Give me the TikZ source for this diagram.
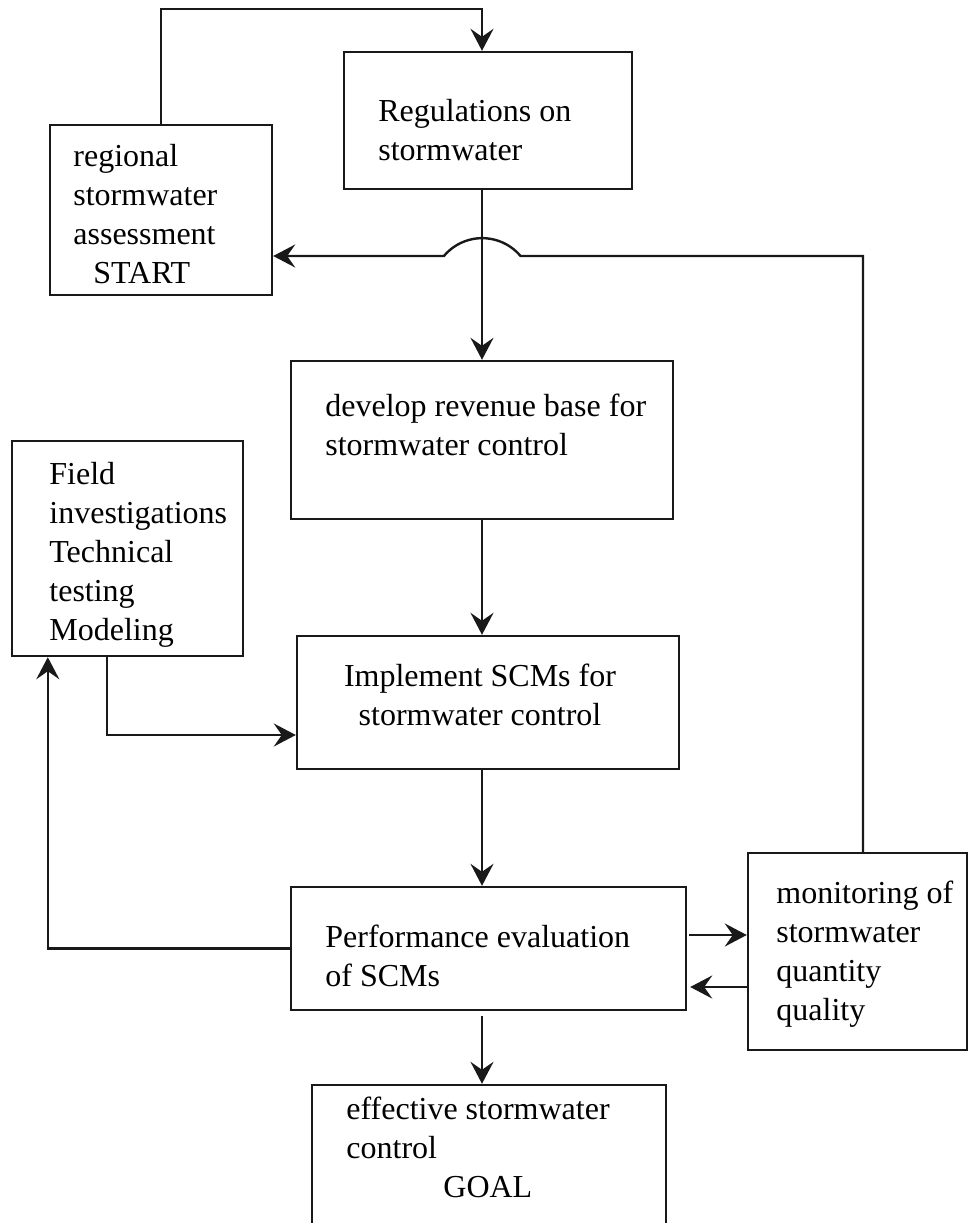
\documentclass[tikz,border=0pt]{standalone}
\usepackage{fontspec}
\setmainfont{Liberation Serif}
\usetikzlibrary{calc}
\usetikzlibrary{positioning}
\usetikzlibrary{arrows.meta}

\tikzset{
    box/.style={rectangle, draw=black!90, line width=1.2pt, inner sep=0pt},
    txt/.style={align=left, anchor=base west, inner sep=0pt, font=\fontsize{16pt}{19.5pt}\selectfont},
    arr/.style={-{Stealth[length=11pt, width=11.5pt, inset=4pt]}, line width=1.2pt, black!90}
}

\begin{document}
\begin{tikzpicture}[x=0.5pt, y=-0.5pt]
    \clip (0,0) rectangle (969,1223);

    % boxes
    \node [box, minimum width=111pt, minimum height=85pt] (start) at (161,210) {};
    \node [box, minimum width=144pt, minimum height=68.5pt] (regulations) at (488,120.5) {};
    \node [box, minimum width=191pt, minimum height=79pt] (revenue) at (482,440) {};
    \node [box, minimum width=115.5pt, minimum height=107.5pt] (field) at (127.5,548.5) {};
    \node [box, minimum width=191pt, minimum height=66.5pt] (implement) at (488,702.5) {};
    \node [box, minimum width=197.5pt, minimum height=61.5pt] (performance) at (488.5,948.5) {};
    \node [box, minimum width=109.5pt, minimum height=98.5pt] (monitoring) at (857.5,951.5) {};
    \node [box, minimum width=177pt, minimum height=87.5pt] (goal) at (489,1172.5) {};

    % texts (placed at the baseline of their last line)
    \node [txt] (startText) at (73,283) {regional\\stormwater\\assessment\\\hspace*{10pt}START};
    \node [txt] (regulationsText) at (378,160) {Regulations on\\stormwater};
    \node [txt] (revenueText) at (325,455) {develop revenue base for\\stormwater control};
    \node [txt] (fieldText) at (49,640) {Field\\investigations\\Technical\\testing\\Modeling};
    \node [txt, align=center, anchor=base] (implementText) at (480,725) {Implement SCMs for\\stormwater control};
    \node [txt] (performanceText) at (325,986) {Performance evaluation\\of SCMs};
    \node [txt] (monitoringText) at (776,1020) {monitoring of\\stormwater\\quantity\\quality};
    \node [txt] (goalText) at (346,1197) {effective stormwater\\control\\\hspace*{48.5pt}GOAL};

    \coordinate (spine) at (482,0);
    \coordinate (hop) at (482,256);

    % connectors
    \draw [arr] (start.north) -- ++(0,-115) -| (spine |- regulations.north);
    \draw [arr] (spine |- regulations.south) -- (spine |- revenue.north);
    \draw [arr] ($(monitoring.north)+(5.5,0)$) |- ($(hop)+(38.5,0)$) arc[start angle=-40, end angle=-140, radius=50] -- (start.east |- hop);
    \draw [arr] (spine |- revenue.south) -- (spine |- implement.north);
    \draw [arr] (spine |- implement.south) -- (spine |- performance.north);
    \draw [arr, shorten <=2.5pt] (spine |- performance.south) -- (spine |- goal.north);
    \draw [arr] ($(field.south)+(-20.5,0)$) |- ($(implement.west)+(0,32.5)$);
    \draw [arr] (performance.west) -| ($(field.south west)+(37,0)$);
    \draw [arr] ($(performance.east)+(2,-13.5)$) coordinate (pm) -- (monitoring.west |- pm);
    \draw [arr] ($(monitoring.west)+(0,35.5)$) coordinate (mp) -- ($(performance.east |- mp)+(3,0)$);
\end{tikzpicture}
\end{document}
